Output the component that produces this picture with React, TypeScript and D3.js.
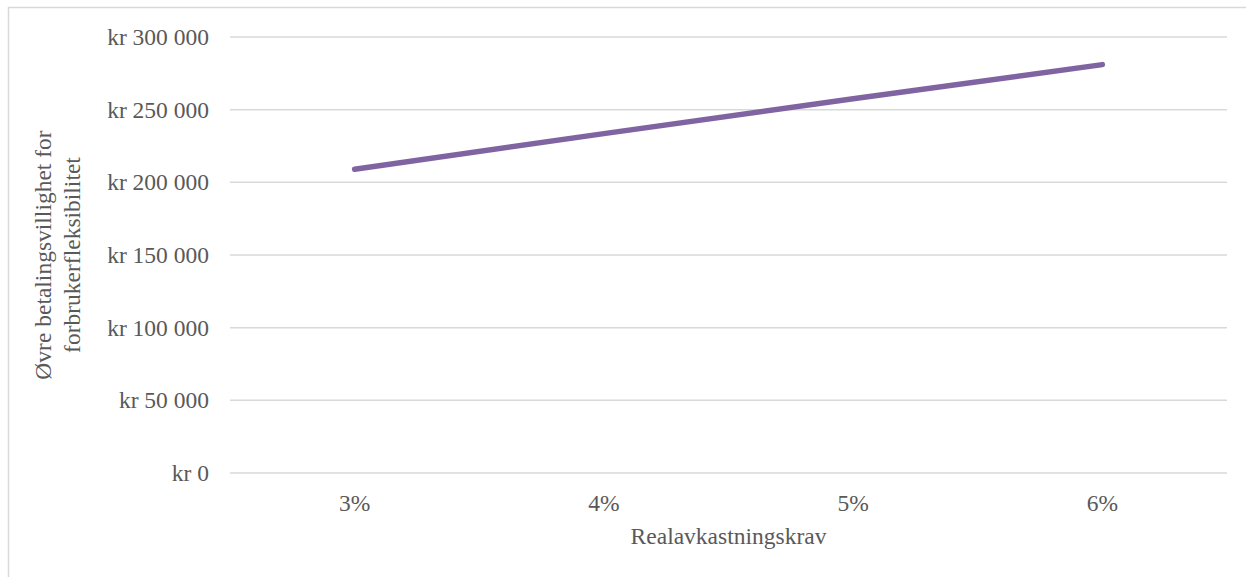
import React from "react";
import * as d3 from "d3";

// Required real rate of return (x categories) and upper willingness to pay (kr)
const categories = ["3%", "4%", "5%", "6%"];
const values = [209000, 233500, 257500, 281000];
const yTicks = [0, 50000, 100000, 150000, 200000, 250000, 300000];

const W = 1246;
const H = 577;
const margin = { left: 230, right: 19, top: 37, bottom: 104 };

const fmt = (v: number) => {
  if (v === 0) return "kr 0";
  const s = String(v);
  return "kr " + s.slice(0, s.length - 3) + " " + s.slice(s.length - 3);
};

export default function App() {
  const x = d3
    .scaleBand<string>()
    .domain(categories)
    .range([margin.left, W - margin.right])
    .paddingInner(0)
    .paddingOuter(0);
  const y = d3
    .scaleLinear()
    .domain([0, 300000])
    .range([H - margin.bottom, margin.top]);

  const line = d3
    .line<number>()
    .x((_, i) => (x(categories[i]) as number) + x.bandwidth() / 2)
    .y((d) => y(d));

  const textColor = "#595959";
  const font = "'Liberation Serif', 'Times New Roman', serif";
  const midY = (y(0) + y(300000)) / 2;

  return (
    <div style={{ position: "absolute", left: 0, top: 0 }}>
      <svg width={W} height={H} style={{ display: "block" }} fontFamily={font}>
        <rect x={0} y={0} width={W} height={H} fill="#ffffff" />
        <rect
          x={8.5}
          y={7.5}
          width={W + 10}
          height={H + 10}
          fill="none"
          stroke="#d9d9d9"
          strokeWidth={1.5}
        />
        {yTicks.map((t) => (
          <g key={t}>
            <line
              x1={margin.left}
              x2={W - margin.right}
              y1={y(t)}
              y2={y(t)}
              stroke="#d9d9d9"
              strokeWidth={1.5}
            />
            <text
              x={209}
              y={y(t)}
              textAnchor="end"
              dominantBaseline="central"
              fontSize={23.5}
              fill={textColor}
            >
              {fmt(t)}
            </text>
          </g>
        ))}
        {categories.map((c) => (
          <text
            key={c}
            x={(x(c) as number) + x.bandwidth() / 2}
            y={503}
            textAnchor="middle"
            dominantBaseline="central"
            fontSize={23.5}
            fill={textColor}
          >
            {c}
          </text>
        ))}
        <path
          d={line(values) || ""}
          fill="none"
          stroke="#8064a2"
          strokeWidth={5.5}
          strokeLinecap="round"
          strokeLinejoin="round"
        />
        <text
          x={(margin.left + W - margin.right) / 2}
          y={536}
          textAnchor="middle"
          dominantBaseline="central"
          fontSize={23.5}
          fill={textColor}
        >
          Realavkastningskrav
        </text>
        <g transform={`translate(0, ${midY}) rotate(-90)`}>
          <text
            x={0}
            y={43}
            textAnchor="middle"
            dominantBaseline="central"
            fontSize={23.5}
            fill={textColor}
          >
            Øvre betalingsvillighet for
          </text>
          <text
            x={0}
            y={72}
            textAnchor="middle"
            dominantBaseline="central"
            fontSize={23.5}
            fill={textColor}
          >
            forbrukerfleksibilitet
          </text>
        </g>
      </svg>
    </div>
  );
}
